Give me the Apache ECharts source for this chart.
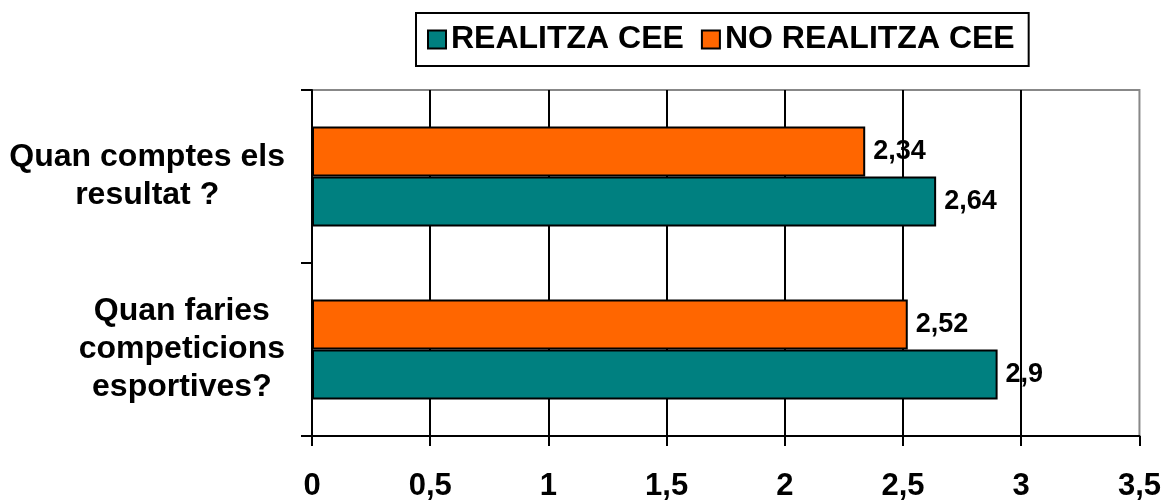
<!DOCTYPE html>
<html>
<head>
<meta charset="utf-8">
<script src="https://cdn.jsdelivr.net/npm/echarts@6/dist/echarts.min.js"></script>
<style>
  html, body { margin: 0; padding: 0; background: #fff; }
  #chart { width: 1164px; height: 502px; }
</style>
</head>
<body>
<div id="chart"></div>
<script>
// Questions, listed from the bottom of the axis to the top
const categories = ['Quan faries\ncompeticions\nesportives?', 'Quan comptes els\nresultat ?'];
const seriesNames = ['REALITZA CEE', 'NO REALITZA CEE'];
const realitzaValues = [2.9, 2.64];
const noRealitzaValues = [2.52, 2.34];
const xTicks = { min: 0, max: 3.5, interval: 0.5 };

const FONT = '"Liberation Sans", Arial, sans-serif';
const comma = v => String(v).replace('.', ',');

const valueLabel = {
  show: true, position: 'right', distance: 8,
  fontFamily: FONT, fontSize: 27, fontWeight: 'bold', color: '#000',
  formatter: p => comma(p.value)
};

const chart = echarts.init(document.getElementById('chart'), null, { renderer: 'canvas' });

chart.setOption({
  backgroundColor: '#ffffff',
  animation: false,
  textStyle: { fontFamily: FONT },
  legend: {
    data: seriesNames,
    left: 416,
    top: 13,
    padding: [10, 14, 10, 11],
    itemWidth: 18,
    itemHeight: 18,
    itemGap: 17,
    borderColor: '#000',
    borderWidth: 2,
    icon: 'rect',
    textStyle: { fontFamily: FONT, fontSize: 32, fontWeight: 'bold', color: '#000', lineHeight: 33 }
  },
  grid: {
    left: 312, right: 24, top: 90, bottom: 62,
    show: true, borderColor: '#888', borderWidth: 2, backgroundColor: 'transparent'
  },
  xAxis: {
    type: 'value',
    min: xTicks.min, max: xTicks.max, interval: xTicks.interval,
    axisLine: { show: true, lineStyle: { color: '#000', width: 2 } },
    axisTick: { show: true, inside: false, length: 10, lineStyle: { color: '#000', width: 2 } },
    splitLine: { show: true, showMinLine: false, showMaxLine: false, lineStyle: { color: '#000', width: 2 } },
    axisLabel: {
      margin: 35,
      fontFamily: FONT, fontSize: 31, fontWeight: 'bold', color: '#000',
      formatter: comma
    }
  },
  yAxis: {
    type: 'category',
    data: categories,
    axisLine: { show: true, lineStyle: { color: '#000', width: 2 } },
    axisTick: { show: true, inside: false, length: 11, lineStyle: { color: '#000', width: 2 } },
    splitLine: { show: false },
    axisLabel: {
      margin: 27,
      align: 'right',
      formatter: v => '{c|' + v + '}',
      rich: {
        c: { align: 'center', fontFamily: FONT, fontSize: 32, fontWeight: 'bold', color: '#000', lineHeight: 38 }
      }
    }
  },
  // The upper bar of each pair is the orange series, so it is listed first
  series: [
    {
      name: seriesNames[1],
      type: 'bar',
      data: noRealitzaValues,
      barWidth: 50,
      barGap: '0%',
      itemStyle: { color: '#FF6600', borderColor: '#000', borderWidth: 2 },
      label: valueLabel
    },
    {
      name: seriesNames[0],
      type: 'bar',
      data: realitzaValues,
      barWidth: 50,
      barGap: '0%',
      itemStyle: { color: '#008080', borderColor: '#000', borderWidth: 2 },
      label: valueLabel
    }
  ]
});
</script>
</body>
</html>
